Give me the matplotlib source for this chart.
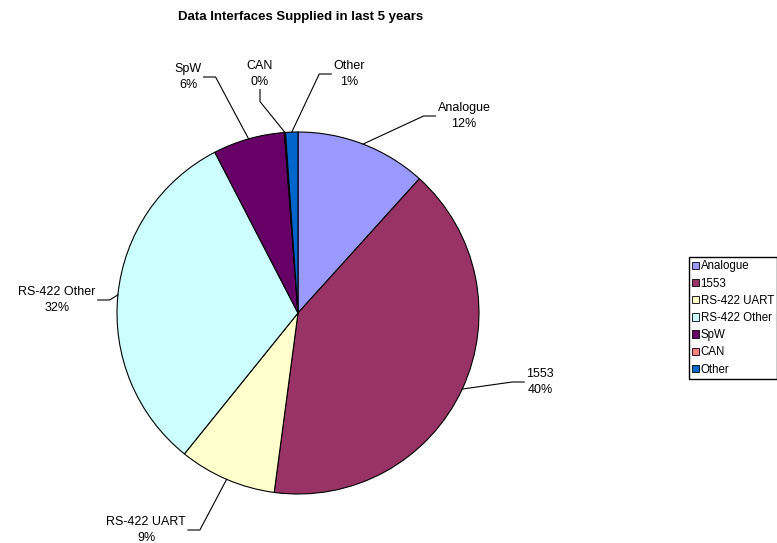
import numpy as np
import matplotlib.pyplot as plt
from matplotlib.patches import Patch

plt.rcParams['font.family'] = ['Liberation Sans', 'DejaVu Sans']

# share of interfaces supplied, percent
categories = ['Analogue', '1553', 'RS-422 UART', 'RS-422 Other', 'SpW', 'CAN', 'Other']
shares = [11.7, 40.4, 8.7, 31.6, 6.4, 0.1, 1.1]
colors = ['#9999FF', '#993366', '#FFFFCC', '#CCFFFF', '#660066', '#FF8080', '#0066CC']

W, H = 777, 543
CX, CY, R = 298, 313, 181


def px(x, y):
    # pixel position -> data units (pie radius = 1)
    return (x - CX) / R, (CY - y) / R


# label centres in pixels and which side the leader joins from
label_pos = {
    'Analogue': (464, 116, 'left'),
    '1553': (540, 382, 'left'),
    'RS-422 UART': (146, 530, 'right'),
    'RS-422 Other': (57, 300, 'right'),
    'SpW': (188, 77, 'right'),
    'CAN': (260, 74, 'below'),
    'Other': (349, 74, 'left'),
}

fig = plt.figure(figsize=(W / 100, H / 100), dpi=100)
ax = fig.add_axes([0, 0, 1, 1])

wedges, _ = ax.pie(shares, colors=colors, startangle=90, counterclock=False,
                   radius=1, center=(0, 0), frame=True,
                   wedgeprops=dict(edgecolor='black', linewidth=0.8))
ax.axis('off')
ax.set_xlim(px(0, 0)[0], px(W, 0)[0])
ax.set_ylim(px(0, H)[1], px(0, 0)[1])

total = sum(shares)
fig.canvas.draw()
renderer = fig.canvas.get_renderer()
for w, name, val in zip(wedges, categories, shares):
    mid = np.deg2rad((w.theta1 + w.theta2) / 2)
    ex, ey = np.cos(mid), np.sin(mid)
    lx, ly, side = label_pos[name]
    tx, ty = px(lx, ly)
    t = ax.text(tx, ty, f'{name}\n{val / total * 100:.0f}%', ha='center', va='center',
                fontsize=9, linespacing=1.35)
    bb = t.get_window_extent(renderer)
    if side == 'left':
        ax_, ay_ = px(bb.x0 - 2, ly)
        bx_, by_ = px(bb.x0 - 14, ly)
    elif side == 'right':
        ax_, ay_ = px(bb.x1 + 2, ly)
        bx_, by_ = px(bb.x1 + 14, ly)
    else:
        ax_, ay_ = px(lx, H - bb.y0 + 2)
        bx_, by_ = px(lx, H - bb.y0 + 14)
    ax.plot([ex, bx_, ax_], [ey, by_, ay_], color='black', lw=0.8)

fig.text(301 / W, 1 - 17 / H, 'Data Interfaces Supplied in last 5 years',
         ha='center', va='center', fontsize=9.5, fontweight='bold')

handles = [Patch(facecolor=c, edgecolor='black', linewidth=0.6) for c in colors]
fig.legend(handles, categories, loc='upper left',
           bbox_to_anchor=(689 / W, 1 - 257 / H), fontsize=8.3,
           frameon=True, fancybox=False, edgecolor='black', framealpha=1,
           handlelength=0.55, handleheight=0.6, handletextpad=0.15,
           labelspacing=0.45, borderpad=0.3, borderaxespad=0)

fig.savefig('out.png', dpi=100)
